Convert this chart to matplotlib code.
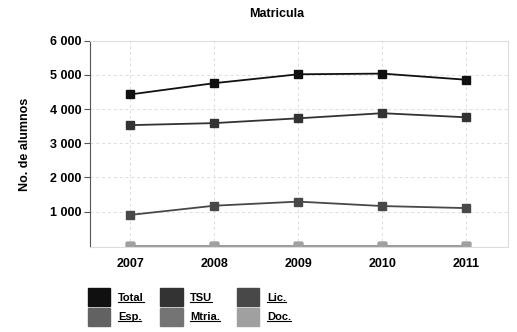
import matplotlib.pyplot as plt
from matplotlib.patches import Patch
from matplotlib.lines import Line2D
from matplotlib.ticker import FuncFormatter

plt.rcParams['font.family'] = ['Liberation Sans', 'DejaVu Sans']

# Data
years = [2007, 2008, 2009, 2010, 2011]
total = [4430, 4760, 5020, 5040, 4860]
tsu = [3530, 3590, 3730, 3880, 3760]
lic = [900, 1170, 1290, 1160, 1100]
esp = [0, 0, 0, 0, 0]
mtria = [0, 0, 0, 0, 0]
doc = [0, 0, 0, 0, 0]

names = ['Total', 'TSU', 'Lic.', 'Esp.', 'Mtria.', 'Doc.']
series = [total, tsu, lic, esp, mtria, doc]
colors = ['#101010', '#333333', '#484848', '#626262', '#747474', '#a0a0a0']

fig = plt.figure(figsize=(5.17, 3.32), dpi=100)
ax = fig.add_axes([0.174, 0.256, 0.809, 0.621])

for vals, c in zip(series, colors):
    ax.plot(years, vals, color=c, lw=1.3, marker='s', markersize=5.5,
            markeredgecolor=c, markerfacecolor=c)

ax.set_xlim(2006.52, 2011.5)
ax.set_ylim(-40, 6000)
ax.set_xticks(years)
ax.set_yticks([1000, 2000, 3000, 4000, 5000, 6000])
ax.yaxis.set_major_formatter(FuncFormatter(lambda v, p: f'{int(v):,}'.replace(',', ' ')))
ax.grid(True, color='#dddddd', ls=(0, (3, 3)), lw=0.7)
ax.set_axisbelow(True)

for s in ['top', 'right', 'bottom']:
    ax.spines[s].set_color('#dddddd')
ax.spines['left'].set_color('#555555')
ax.tick_params(axis='y', length=4, color='#555555', labelsize=9, pad=2)
ax.tick_params(axis='x', length=0, labelsize=9, pad=8)
for lab in ax.get_xticklabels() + ax.get_yticklabels():
    lab.set_fontweight('bold')

fig.text(0.536, 0.958, 'Matricula', fontsize=9, fontweight='bold',
         ha='center', va='center')
ax.set_ylabel('No. de alumnos', fontsize=9, fontweight='bold', labelpad=14)

# legend laid out row-wise
order = [0, 3, 1, 4, 2, 5]
handles = [Patch(facecolor=colors[i], edgecolor=colors[i]) for i in order]
labels = [names[i] for i in order]
leg = fig.legend(handles, labels, ncol=3, loc='upper left',
                 bbox_to_anchor=(0.155, 0.155), frameon=False,
                 handlelength=2.0, handleheight=2.1, handletextpad=0.7,
                 columnspacing=1.5, labelspacing=0.15, borderpad=0.2,
                 prop={'size': 8, 'weight': 'bold'})

# underline the legend labels
fig.canvas.draw()
r = fig.canvas.get_renderer()
for t in leg.get_texts():
    bb = t.get_window_extent(r)
    y = bb.y0 + 1
    fig.add_artist(Line2D([bb.x0, bb.x1], [y, y], transform=None,
                          color='black', lw=0.8))

fig.savefig('out.png', dpi=100)
